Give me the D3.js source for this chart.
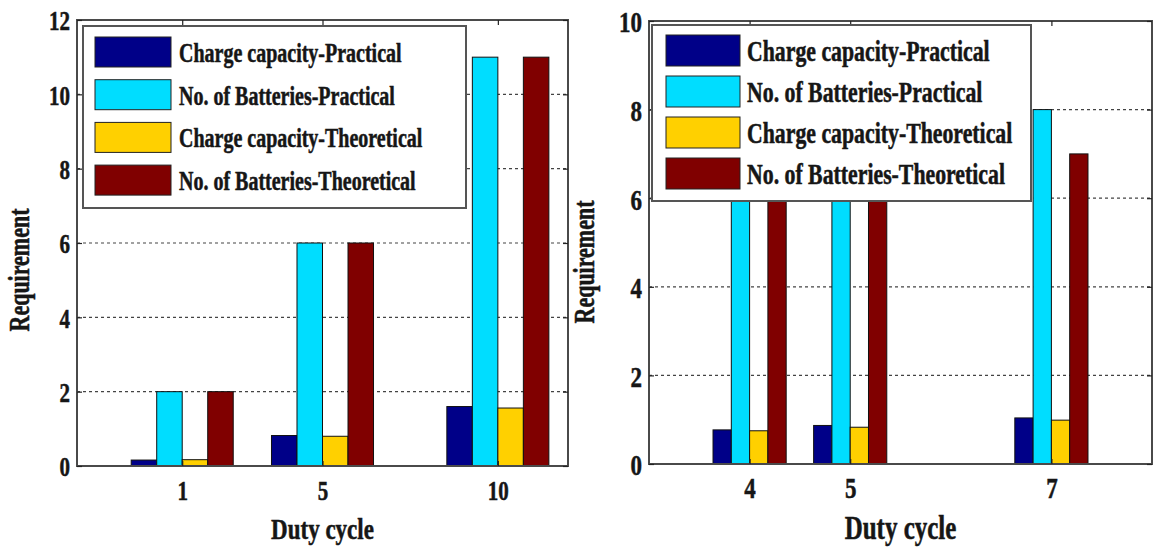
<!DOCTYPE html>
<html>
<head>
<meta charset="UTF-8">
<title>Requirement vs duty cycle</title>
<style>
  body { margin: 0; background: #fff; }
  text { font-family: "Liberation Serif", "Times New Roman", serif; font-weight: bold; fill: #161616; stroke: #161616; stroke-width: 0.4px; }
  .grid line { stroke: #444; stroke-dasharray: 3,3; stroke-width: 1.2; }
  .frame { fill: none; stroke: #4a4a4a; stroke-width: 2; }
  .tick line { stroke: #222; stroke-width: 1.2; }
  .bar { stroke: #111; stroke-width: 1; }
  .legend-box { fill: #fff; stroke: #555; stroke-width: 2; }
  .swatch { stroke: #222; stroke-width: 1; }
</style>
</head>
<body>
<script src="https://cdn.jsdelivr.net/npm/d3@7"></script>
<script>
'use strict';

var width = 1153;
var height = 548;
var STRETCH = 1.32; // the source picture is squeezed sideways, so all glyphs look tall

var seriesNames = ["Charge capacity-Practical", "No. of Batteries-Practical",
                   "Charge capacity-Theoretical", "No. of Batteries-Theoretical"];
var seriesColors = ["#000088", "#00DDFF", "#FFD000", "#800000"];

// left panel
var leftDuty = [1, 5, 10];
var leftChargePractical = [0.16, 0.82, 1.6];
var leftBatteriesPractical = [2, 6, 11];
var leftChargeTheoretical = [0.17, 0.8, 1.56];
var leftBatteriesTheoretical = [2, 6, 11];
var leftYTicks = [0, 2, 4, 6, 8, 10, 12];

// right panel
var rightDuty = [4, 5, 7];
var rightChargePractical = [0.77, 0.87, 1.04];
var rightBatteriesPractical = [6, 6, 8];
var rightChargeTheoretical = [0.75, 0.83, 0.99];
var rightBatteriesTheoretical = [6, 6, 7];
var rightYTicks = [0, 2, 4, 6, 8, 10];

var charts = [
	{
		duty: leftDuty,
		series: [leftChargePractical, leftBatteriesPractical, leftChargeTheoretical, leftBatteriesTheoretical],
		yTicks: leftYTicks,
		xDomain: [-2, 12],
		box: {x0: 77, x1: 568, y0: 20, y1: 466},
		tickFont: 21, labelFont: 23, ylabelFont: 22,
		ylabel: {x: 29, y: 270},
		xlabelY: 539,
		legend: {x: 83, y: 26, w: 383, h: 182, font: 20, top: 11, step: 42.7, swX: 12, swW: 76, swH: 30, textX: 96}
	},
	{
		duty: rightDuty,
		series: [rightChargePractical, rightBatteriesPractical, rightChargeTheoretical, rightBatteriesTheoretical],
		yTicks: rightYTicks,
		xDomain: [3, 8],
		box: {x0: 649, x1: 1152, y0: 21, y1: 464},
		tickFont: 23, labelFont: 25, ylabelFont: 22,
		ylabel: {x: 594, y: 262},
		xlabelY: 539,
		legend: {x: 652, y: 25, w: 379, h: 176, font: 21.8, top: 10, step: 41, swX: 14, swW: 74, swH: 31, textX: 95}
	}
];

var svg = d3.select("body").append("svg")
	.attr("width", width)
	.attr("height", height);

charts.forEach(drawChart);

function drawChart(c){
	var x = d3.scaleLinear().domain(c.xDomain).range([c.box.x0, c.box.x1]);
	var y = d3.scaleLinear().domain([0, c.yTicks[c.yTicks.length - 1]]).range([c.box.y1, c.box.y0]);
	var g = svg.append("g");

	// dotted grid at inner y ticks
	g.append("g").attr("class", "grid")
		.selectAll("line")
		.data(c.yTicks.slice(1, -1))
	.enter().append("line")
		.attr("x1", c.box.x0).attr("x2", c.box.x1)
		.attr("y1", function(d){ return y(d); })
		.attr("y2", function(d){ return y(d); });

	// matlab style grouped bars
	var n = c.series.length;
	var spacing = d3.min(d3.pairs(c.duty), function(p){ return p[1] - p[0]; });
	var groupWidth = Math.min(0.8, n / (n + 1.5)) * spacing;
	var barW = groupWidth / n;

	c.series.forEach(function(values, i){
		g.append("g")
			.selectAll("rect")
			.data(values)
		.enter().append("rect")
			.attr("class", "bar")
			.attr("fill", seriesColors[i])
			.attr("x", function(d, j){ return x(c.duty[j] - groupWidth / 2 + i * barW); })
			.attr("width", function(d, j){ return x(c.duty[j] - groupWidth / 2 + (i + 1) * barW) - x(c.duty[j] - groupWidth / 2 + i * barW); })
			.attr("y", function(d){ return y(d); })
			.attr("height", function(d){ return y(0) - y(d); });
	});

	g.append("rect")
		.attr("class", "frame")
		.attr("x", c.box.x0).attr("y", c.box.y0)
		.attr("width", c.box.x1 - c.box.x0)
		.attr("height", c.box.y1 - c.box.y0);

	// axes, ticks pointing inward
	var gb = g.append("g")
		.attr("transform", "translate(0," + c.box.y1 + ")")
		.call(d3.axisBottom(x).tickValues(c.duty).tickFormat(d3.format("d")).tickSizeInner(-5).tickSizeOuter(0));
	gb.select(".domain").remove();
	gb.selectAll("text")
		.attr("font-size", c.tickFont)
		.attr("y", 34 / STRETCH)
		.attr("dy", null)
		.attr("transform", "scale(1," + STRETCH + ")");

	var gt = g.append("g")
		.attr("transform", "translate(0," + c.box.y0 + ")")
		.call(d3.axisTop(x).tickValues(c.duty).tickSizeInner(-5).tickSizeOuter(0).tickFormat(""));
	gt.select(".domain").remove();

	var gl = g.append("g")
		.attr("transform", "translate(" + c.box.x0 + ",0)")
		.call(d3.axisLeft(y).tickValues(c.yTicks).tickFormat(d3.format("d")).tickSizeInner(-5).tickSizeOuter(0).tickPadding(7));
	gl.select(".domain").remove();
	gl.selectAll("text")
		.attr("font-size", c.tickFont)
		.attr("dy", "0.36em")
		.attr("transform", "scale(1," + STRETCH + ")");

	var gr = g.append("g")
		.attr("transform", "translate(" + c.box.x1 + ",0)")
		.call(d3.axisRight(y).tickValues(c.yTicks).tickSizeInner(-5).tickSizeOuter(0).tickFormat(""));
	gr.select(".domain").remove();

	// axis titles
	g.append("text")
		.attr("text-anchor", "middle")
		.attr("font-size", c.labelFont)
		.attr("transform", "translate(" + ((c.box.x0 + c.box.x1) / 2) + "," + c.xlabelY + ") scale(1," + STRETCH + ")")
		.text("Duty cycle");

	g.append("text")
		.attr("text-anchor", "middle")
		.attr("font-size", c.ylabelFont)
		.attr("transform", "translate(" + c.ylabel.x + "," + c.ylabel.y + ") rotate(-90) scale(1," + STRETCH + ")")
		.text("Requirement");

	// legend
	var L = c.legend;
	var lg = g.append("g").attr("transform", "translate(" + L.x + "," + L.y + ")");
	lg.append("rect")
		.attr("class", "legend-box")
		.attr("width", L.w)
		.attr("height", L.h);

	var rows = lg.selectAll(".row")
		.data(seriesNames)
	.enter().append("g")
		.attr("class", "row")
		.attr("transform", function(d, i){ return "translate(0," + (L.top + i * L.step) + ")"; });

	rows.append("rect")
		.attr("class", "swatch")
		.attr("x", L.swX)
		.attr("width", L.swW)
		.attr("height", L.swH)
		.attr("fill", function(d, i){ return seriesColors[i]; });

	rows.append("text")
		.attr("font-size", L.font)
		.attr("transform", "translate(" + L.textX + "," + (L.swH / 2 + 10) + ") scale(1," + STRETCH + ")")
		.text(function(d){ return d; });
}

</script>
</body>
</html>
